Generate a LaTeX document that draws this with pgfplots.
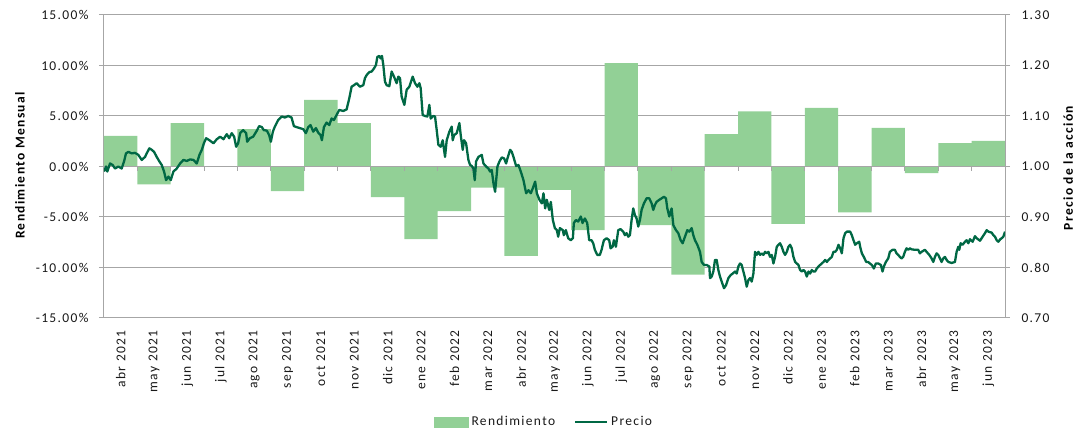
\documentclass[border=0pt]{standalone}
\usepackage{pgfplots}
\pgfplotsset{compat=1.18}
\usepackage{fontspec}
\setmainfont{Carlito}[LetterSpace=10]
\definecolor{barg}{RGB}{146,208,150}
\definecolor{lineg}{RGB}{0,104,68}
\definecolor{gridc}{RGB}{166,166,166}
\definecolor{txt}{RGB}{25,25,25}
\begin{document}
\begin{tikzpicture}[font=\fontsize{13.5}{15}\selectfont]
\path[use as bounding box] (-104pt,-117pt) rectangle (974pt,318pt);
\begin{axis}[
  at={(0,0)}, anchor=south west,
  scale only axis, width=901pt, height=303pt,
  xmin=-0.5, xmax=26.5, ymin=-15, ymax=15,
  axis x line*=bottom, x axis line style={draw=none},
  axis y line*=left, y axis line style={gridc, line width=1pt},
  xtick={0,...,26},
  xticklabels={abr 2021,may 2021,jun 2021,jul 2021,ago 2021,sep 2021,oct 2021,nov 2021,dic 2021,ene 2022,feb 2022,mar 2022,abr 2022,may 2022,jun 2022,jul 2022,ago 2022,sep 2022,oct 2022,nov 2022,dic 2022,ene 2023,feb 2023,mar 2023,abr 2023,may 2023,jun 2023},
  xtick style={draw=none},
  xticklabel style={rotate=90, anchor=east, text=txt},
  xticklabel shift=4pt,
  ytick={-15,-10,-5,0,5,10,15},
  yticklabels={-15.00\%,-10.00\%,-5.00\%,0.00\%,5.00\%,10.00\%,15.00\%},
  ymajorgrids, grid style={gridc, line width=1pt},
  tick align=outside, major tick length=5pt,
  ytick style={gridc, line width=1pt},
  yticklabel style={text=txt},
  yticklabel shift=7pt,
  ylabel={\bfseries Rendimiento Mensual},
  every axis y label/.style={at={(axis description cs:-0.0932,0.503)}, rotate=90, anchor=center, text=black},
]
\addplot[ybar, bar width=33.37pt, bar shift=0pt, fill=barg, draw=none] coordinates {
(0,3.04) (1,-1.78) (2,4.29) (3,0) (4,3.70) (5,-2.44) (6,6.60) (7,4.29) (8,-3.04)
(9,-7.20) (10,-4.42) (11,-2.08) (12,-8.85) (13,-2.31) (14,-6.30) (15,10.23) (16,-5.80)
(17,-10.70) (18,3.20) (19,5.45) (20,-5.68) (21,5.80) (22,-4.55) (23,3.83) (24,-0.66)
(25,2.31) (26,2.54)};
\draw[gridc, line width=1pt] (axis cs:-0.5,0) -- (axis cs:26.5,0);
\pgfplotsinvokeforeach{0.5,1.5,...,25.5}{\draw[gridc, line width=1pt] (axis cs:#1,0) -- ++(0pt,-5pt);}
\end{axis}
\begin{axis}[
  at={(0,0)}, anchor=south west,
  scale only axis, width=901pt, height=303pt,
  xmin=-0.5, xmax=26.5, ymin=0.7, ymax=1.3,
  hide x axis, axis y line*=right, y axis line style={gridc, line width=1pt},
  ytick={0.7,0.8,0.9,1.0,1.1,1.2,1.3},
  yticklabels={0.70,0.80,0.90,1.00,1.10,1.20,1.30},
  tick align=outside, major tick length=5pt,
  ytick style={gridc, line width=1pt},
  yticklabel style={text=txt},
  yticklabel shift=8pt,
  ylabel={\bfseries Precio de la acción},
  every axis y label/.style={at={(axis description cs:1.07,0.495)}, rotate=90, anchor=center, text=black},
  legend style={at={(0.489,-0.343)}, anchor=center, draw=none, fill=none, legend columns=2,
    text=txt, nodes={inner xsep=3pt}, /tikz/every even column/.append style={column sep=16pt}},
  legend cell align=left,
]
\addlegendimage{legend image code/.code={\fill[barg] (0pt,-5pt) rectangle (34pt,5pt);}}
\addlegendentry{Rendimiento}
\addplot[lineg, line width=2.3pt, line join=round,
  legend image code/.code={\draw[lineg, line width=2pt] (0pt,0pt) -- (32pt,0pt);}] coordinates {
(-0.5,0.990) (-0.44,1.000) (-0.40,0.990) (-0.32,1.006) (-0.24,1.003) (-0.17,0.996) (-0.07,1.000) (0.03,0.996)
(0.10,1.010) (0.16,1.026) (0.23,1.029) (0.33,1.026) (0.43,1.027) (0.53,1.023) (0.63,1.013) (0.73,1.019)
(0.78,1.026) (0.86,1.036) (0.93,1.033) (1.00,1.029) (1.08,1.019) (1.16,1.010) (1.23,1.003) (1.30,0.990)
(1.36,0.973) (1.43,0.980) (1.50,0.973) (1.58,0.990) (1.68,0.996) (1.78,1.006) (1.88,1.013) (1.98,1.011)
(2.08,1.014) (2.18,1.013) (2.28,1.006) (2.36,1.023) (2.43,1.033) (2.50,1.047) (2.56,1.056) (2.66,1.052)
(2.78,1.046) (2.88,1.054) (2.98,1.059) (3.08,1.054) (3.18,1.064) (3.25,1.056) (3.33,1.066) (3.40,1.059)
(3.46,1.039) (3.52,1.046) (3.58,1.066) (3.67,1.072) (3.76,1.066) (3.79,1.049) (3.87,1.056) (3.97,1.059)
(4.08,1.071) (4.15,1.080) (4.23,1.078) (4.29,1.072) (4.38,1.071) (4.45,1.062) (4.50,1.049) (4.56,1.069)
(4.62,1.079) (4.72,1.092) (4.83,1.099) (4.92,1.097) (5.02,1.100) (5.12,1.097) (5.19,1.080) (5.27,1.078)
(5.37,1.076) (5.47,1.074) (5.55,1.066) (5.62,1.078) (5.69,1.082) (5.77,1.069) (5.85,1.076) (5.92,1.067)
(5.99,1.062) (6.03,1.052) (6.09,1.078) (6.17,1.087) (6.25,1.082) (6.32,1.095) (6.39,1.092) (6.47,1.102)
(6.55,1.112) (6.67,1.110) (6.77,1.113) (6.85,1.135) (6.92,1.158) (6.99,1.161) (7.07,1.165) (7.17,1.158)
(7.27,1.161) (7.32,1.175) (7.37,1.181) (7.45,1.187) (7.52,1.188) (7.59,1.194) (7.65,1.201) (7.69,1.217)
(7.75,1.219) (7.79,1.214) (7.83,1.219) (7.87,1.201) (7.92,1.168) (7.97,1.161) (8.05,1.159) (8.12,1.188)
(8.19,1.178) (8.27,1.165) (8.32,1.178) (8.37,1.175) (8.42,1.138) (8.47,1.128) (8.50,1.122) (8.57,1.152)
(8.65,1.158) (8.75,1.178) (8.82,1.165) (8.89,1.158) (8.95,1.165) (8.99,1.155) (9.05,1.102) (9.12,1.100)
(9.19,1.099) (9.25,1.122) (9.29,1.095) (9.37,1.100) (9.42,1.099) (9.47,1.072) (9.52,1.043) (9.59,1.039)
(9.65,1.052) (9.72,1.019) (9.77,1.052) (9.85,1.069) (9.92,1.079) (9.95,1.052) (9.99,1.062) (10.07,1.066)
(10.15,1.086) (10.19,1.062) (10.25,1.033) (10.29,1.052) (10.35,1.046) (10.42,1.013) (10.47,1.003) (10.52,1.001)
(10.57,0.996) (10.61,0.973) (10.65,1.010) (10.72,1.019) (10.82,1.023) (10.87,1.006) (10.95,1.000) (11.02,0.996)
(11.07,0.990) (11.12,0.993) (11.17,0.967) (11.22,0.950) (11.29,1.000) (11.35,1.010) (11.42,1.018) (11.49,1.016)
(11.55,1.006) (11.59,1.016) (11.67,1.033) (11.72,1.029) (11.77,1.019) (11.85,1.001) (11.92,1.003) (11.99,0.990)
(12.07,0.973) (12.15,0.947) (12.22,0.953) (12.29,0.947) (12.35,0.957) (12.42,0.970) (12.47,0.947) (12.55,0.934)
(12.62,0.927) (12.67,0.947) (12.72,0.917) (12.77,0.934) (12.84,0.914) (12.89,0.930) (12.95,0.894) (13.01,0.878)
(13.07,0.874) (13.11,0.861) (13.16,0.878) (13.25,0.874) (13.28,0.864) (13.34,0.874) (13.41,0.858) (13.49,0.854)
(13.55,0.858) (13.58,0.888) (13.64,0.894) (13.71,0.891) (13.79,0.901) (13.84,0.888) (13.91,0.897) (13.98,0.888)
(14.04,0.854) (14.11,0.854) (14.16,0.848) (14.21,0.835) (14.28,0.825) (14.36,0.825) (14.41,0.835) (14.48,0.854)
(14.56,0.858) (14.64,0.854) (14.68,0.838) (14.74,0.841) (14.78,0.854) (14.84,0.841) (14.91,0.874) (14.98,0.876)
(15.06,0.871) (15.11,0.864) (15.16,0.868) (15.21,0.861) (15.26,0.864) (15.31,0.894) (15.36,0.917) (15.41,0.904)
(15.46,0.897) (15.51,0.881) (15.56,0.894) (15.61,0.914) (15.68,0.927) (15.76,0.937) (15.84,0.937) (15.91,0.927)
(15.96,0.914) (16.01,0.924) (16.06,0.930) (16.14,0.934) (16.21,0.937) (16.28,0.940) (16.34,0.937) (16.38,0.917)
(16.44,0.901) (16.51,0.917) (16.56,0.884) (16.64,0.874) (16.71,0.868) (16.78,0.854) (16.84,0.848) (16.91,0.861)
(16.98,0.874) (17.04,0.871) (17.11,0.878) (17.16,0.864) (17.21,0.854) (17.28,0.845) (17.36,0.831) (17.41,0.811)
(17.48,0.805) (17.56,0.805) (17.64,0.802) (17.66,0.779) (17.71,0.782) (17.76,0.792) (17.81,0.815) (17.86,0.815)
(17.91,0.795) (17.96,0.782) (18.01,0.772) (18.08,0.759) (18.14,0.765) (18.21,0.779) (18.28,0.785) (18.34,0.788)
(18.41,0.792) (18.46,0.788) (18.51,0.802) (18.56,0.808) (18.61,0.805) (18.66,0.792) (18.71,0.779) (18.76,0.762)
(18.81,0.775) (18.86,0.779) (18.91,0.772) (18.96,0.788) (19.01,0.831) (19.06,0.825) (19.11,0.831) (19.16,0.825)
(19.21,0.828) (19.26,0.825) (19.31,0.831) (19.36,0.828) (19.41,0.831) (19.46,0.821) (19.51,0.825) (19.56,0.808)
(19.61,0.821) (19.66,0.841) (19.71,0.845) (19.76,0.848) (19.81,0.841) (19.86,0.831) (19.91,0.825) (19.96,0.831)
(20.01,0.841) (20.06,0.845) (20.11,0.838) (20.16,0.821) (20.21,0.811) (20.26,0.808) (20.31,0.805) (20.36,0.795)
(20.41,0.792) (20.46,0.795) (20.51,0.792) (20.56,0.782) (20.61,0.792) (20.66,0.788) (20.71,0.795) (20.76,0.792)
(20.81,0.792) (20.86,0.798) (20.91,0.802) (20.96,0.805) (21.01,0.808) (21.06,0.811) (21.11,0.815) (21.16,0.811)
(21.21,0.815) (21.26,0.818) (21.31,0.821) (21.36,0.831) (21.41,0.831) (21.46,0.835) (21.51,0.845) (21.56,0.838)
(21.61,0.828) (21.66,0.858) (21.71,0.868) (21.76,0.871) (21.81,0.871) (21.86,0.871) (21.91,0.864) (21.96,0.854)
(22.01,0.845) (22.06,0.848) (22.13,0.851) (22.16,0.841) (22.21,0.828) (22.27,0.821) (22.34,0.811) (22.40,0.811)
(22.45,0.808) (22.51,0.805) (22.57,0.798) (22.63,0.808) (22.70,0.808) (22.78,0.805) (22.83,0.792) (22.87,0.802)
(22.93,0.811) (23.00,0.818) (23.05,0.831) (23.13,0.835) (23.20,0.835) (23.25,0.828) (23.30,0.825) (23.35,0.821)
(23.40,0.818) (23.45,0.821) (23.50,0.831) (23.55,0.838) (23.60,0.835) (23.65,0.838) (23.70,0.836) (23.80,0.835)
(23.90,0.835) (23.95,0.828) (24.00,0.831) (24.10,0.835) (24.15,0.831) (24.23,0.825) (24.30,0.818) (24.35,0.811)
(24.40,0.821) (24.45,0.828) (24.50,0.825) (24.55,0.818) (24.60,0.811) (24.65,0.818) (24.70,0.821) (24.75,0.815)
(24.80,0.811) (24.90,0.809) (25.00,0.811) (25.05,0.831) (25.10,0.841) (25.13,0.835) (25.17,0.848) (25.23,0.845)
(25.30,0.851) (25.35,0.854) (25.40,0.848) (25.45,0.856) (25.53,0.851) (25.60,0.862) (25.65,0.858) (25.75,0.853)
(25.80,0.858) (25.90,0.868) (25.95,0.874) (26.00,0.871) (26.10,0.869) (26.15,0.864) (26.20,0.861) (26.25,0.854)
(26.30,0.851) (26.36,0.856) (26.40,0.858) (26.45,0.861) (26.50,0.871)};
\addlegendentry{Precio}
\end{axis}
\end{tikzpicture}
\end{document}
